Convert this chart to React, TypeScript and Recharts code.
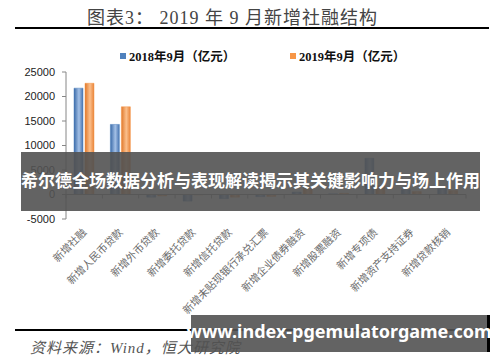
import { Bar, BarChart, ReferenceLine, XAxis, YAxis } from "recharts";

const categories = [
  "新增社融",
  "新增人民币贷款",
  "新增外币贷款",
  "新增委托贷款",
  "新增信托贷款",
  "新增未贴现银行承兑汇票",
  "新增企业债券融资",
  "新增股票融资",
  "新增专项债",
  "新增资产支持证券",
  "新增贷款核销"
];

const values2018 = [21700, 14300, -550, -1350, -850, -450, 500, 150, 7400, 1000, 1200];
const values2019 = [22700, 17900, -300, -100, -550, -400, 1400, 250, 1800, 600, 800];

const yTicks = [-5000, 0, 5000, 10000, 15000, 20000, 25000];

const series = [
  { key: "y2018", name: "2018年9月（亿元）", color: "#4f81bd", grad: "blueGrad" },
  { key: "y2019", name: "2019年9月（亿元）", color: "#f79646", grad: "orangeGrad" }
];

const data = categories.map((name, i) => ({
  name,
  y2018: values2018[i],
  y2019: values2019[i]
}));

const serif = '"Liberation Serif", "Noto Sans CJK SC", serif';
const cjk = '"Noto Sans CJK SC", sans-serif';

const CategoryTick = ({ x, y, payload }: any) => (
  <text
    x={x + 3}
    y={y + 12}
    transform={`rotate(-45 ${x + 3} ${y + 12})`}
    textAnchor="end"
    fontSize={10.5}
    fill="#6a6a6a"
    fontFamily={cjk}
  >
    {payload.value}
  </text>
);

const ZeroLine = (props: any) => {
  const { x1, y1, x2, y2 } = props;
  const step = (x2 - x1) / categories.length;
  const marks = [];
  for (let i = 0; i <= categories.length; i++) {
    const x = x1 + i * step;
    marks.push(<line key={i} x1={x} y1={y1} x2={x} y2={y1 + 4} stroke="#868686" />);
  }
  return (
    <g>
      <line x1={x1} y1={y1} x2={x2} y2={y2} stroke="#868686" />
      {marks}
    </g>
  );
};

export default function App() {
  return (
    <div
      style={{
        position: "absolute",
        left: 0,
        top: 0,
        width: 500,
        height: 362,
        background: "#fff",
        overflow: "hidden"
      }}
    >
      <div
        style={{
          position: "absolute",
          left: 0,
          top: 3,
          width: 465,
          textAlign: "center",
          fontFamily: serif,
          fontSize: 18,
          color: "#444",
          letterSpacing: 1
        }}
      >
        图表3： 2019 年 9 月新增社融结构
      </div>
      <div style={{ position: "absolute", left: 15, top: 27, width: 474, height: 2, background: "#000" }} />

      {series.map((s, i) => (
        <div
          key={s.key}
          style={{
            position: "absolute",
            left: i === 0 ? 120 : 290,
            top: 46,
            display: "flex",
            alignItems: "center",
            fontFamily: serif,
            fontWeight: 700,
            fontSize: 12.5,
            color: "#111"
          }}
        >
          <span style={{ width: 6, height: 6, background: s.color, marginRight: 3, display: "inline-block" }} />
          <span>{s.name}</span>
        </div>
      ))}

      <div style={{ position: "absolute", left: 0, top: 0 }}>
        <BarChart
          width={500}
          height={362}
          data={data}
          margin={{ top: 72, right: 34, left: 8, bottom: 113 }}
          barSize={9}
          barGap={2}
        >
          <defs>
            <linearGradient id="blueGrad" x1="0" y1="0" x2="1" y2="0">
              <stop offset="0%" stopColor="#3a6aa8" />
              <stop offset="55%" stopColor="#a3c0e6" />
              <stop offset="100%" stopColor="#4673b0" />
            </linearGradient>
            <linearGradient id="orangeGrad" x1="0" y1="0" x2="1" y2="0">
              <stop offset="0%" stopColor="#e0782a" />
              <stop offset="55%" stopColor="#fbbf8c" />
              <stop offset="100%" stopColor="#e8843a" />
            </linearGradient>
          </defs>
          <XAxis
            dataKey="name"
            axisLine={false}
            tickLine={false}
            tickSize={0}
            height={30}
            interval={0}
            tick={<CategoryTick />}
          />
          <YAxis
            width={58}
            domain={[-5000, 25000]}
            ticks={yTicks}
            interval={0}
            axisLine={{ stroke: "#868686" }}
            tickLine={{ stroke: "#868686" }}
            tickSize={4}
            tickMargin={7}
            tick={{ fill: "#222", fontSize: 11, fontFamily: '"Liberation Sans", Arial, sans-serif' }}
          />
          <ReferenceLine y={0} shape={(p: any) => <ZeroLine {...p} />} />
          {series.map((s) => (
            <Bar
              key={s.key}
              dataKey={s.key}
              name={s.name}
              fill={`url(#${s.grad})`}
              stroke={s.color}
              strokeWidth={0.5}
              isAnimationActive={false}
            />
          ))}
        </BarChart>
      </div>

      <div style={{ position: "absolute", left: 15, top: 329, width: 474, height: 2, background: "#000" }} />
      <div
        style={{
          position: "absolute",
          left: 30,
          top: 336,
          fontFamily: serif,
          fontStyle: "italic",
          fontSize: 15,
          color: "#555",
          letterSpacing: 1
        }}
      >
        资料来源：Wind，恒大研究院
      </div>

      <div
        style={{
          position: "absolute",
          left: 21,
          top: 152,
          width: 459,
          height: 59,
          background: "rgba(82, 82, 82, 0.9)",
          display: "flex",
          alignItems: "center",
          justifyContent: "center"
        }}
      >
        <span
          style={{
            fontFamily: cjk,
            fontWeight: 700,
            fontSize: 17,
            color: "#fff",
            whiteSpace: "nowrap",
            marginTop: -4
          }}
        >
          希尔德全场数据分析与表现解读揭示其关键影响力与场上作用
        </span>
      </div>

      <div
        style={{
          position: "absolute",
          left: 191,
          top: 315,
          width: 296,
          height: 37,
          background: "rgba(82, 82, 82, 0.9)",
          borderRight: "3px solid #000",
          display: "flex",
          alignItems: "center",
          justifyContent: "center"
        }}
      >
        <span
          style={{
            fontFamily: '"Noto Sans", sans-serif',
            fontWeight: 700,
            fontSize: 18,
            color: "#fff",
            whiteSpace: "nowrap",
            marginTop: -6
          }}
        >
          www.index-pgemulatorgame.com
        </span>
      </div>
    </div>
  );
}
